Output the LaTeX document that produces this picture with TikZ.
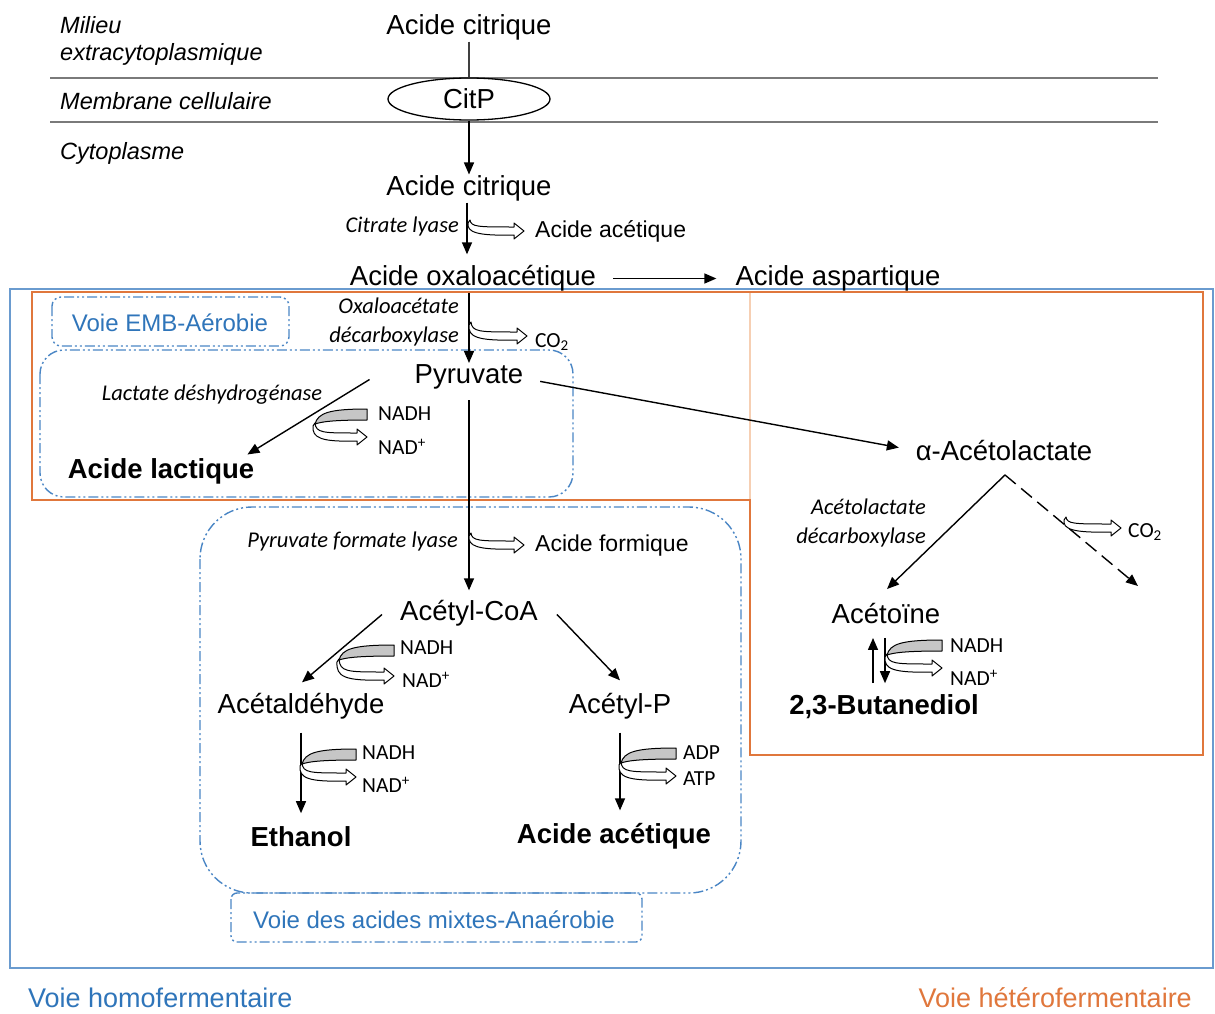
\documentclass[tikz,border=0pt]{standalone}
\usepackage{fontspec}
\setmainfont{Liberation Sans}
\newfontfamily\calib{Carlito}
\usetikzlibrary{arrows.meta,shapes.geometric,calc}
\definecolor{bl}{HTML}{4A86C5}
\definecolor{bltx}{HTML}{2F75BA}
\definecolor{blframe}{HTML}{6A9BCF}
\definecolor{org}{HTML}{E0773C}
\definecolor{orglt}{HTML}{F6CFB3}
\definecolor{memb}{HTML}{7A7A7A}
\newcommand\hollowarr[3]{%
\begin{scope}[shift={#1}]
\draw[fill=white,line width=1pt,line join=round]
 (0,0) .. controls (1,{#3-4}) and (8,{#3-4}) .. ({#2-10},{#3-4}) -- ({#2-10},{#3-8}) -- (#2,#3) -- ({#2-10},{#3+8}) -- ({#2-10},{#3+4}) .. controls (6,{#3+5}) and (-3,{#3+1}) .. (-2,3) -- cycle;
\end{scope}}
\newcommand\grayband[2]{%
\begin{scope}[shift={#1}]
\draw[fill=gray!45,line width=1pt,line join=round]
 (0,1) .. controls (3,-10) and (14,-14) .. (#2,-14) -- (#2,-3) .. controls (16,-3) and (6,-1) .. (0,1) -- cycle;
\end{scope}}
\newcommand\cofac[3]{\grayband{#1}{#2}\hollowarr{#1}{#2}{#3}}
\begin{document}
\begin{tikzpicture}[x=1pt,y=-1pt,
  big/.style={font=\fontsize{27.5}{32}\selectfont, inner sep=1pt, yshift=-2.5pt},
  med/.style={font=\fontsize{23}{28}\selectfont, inner sep=0pt, anchor=west, yshift=-2pt},
  bigb/.style={font=\fontsize{27.5}{32}\selectfont\bfseries, inner sep=1pt, yshift=-2.5pt},
  zone/.style={font=\fontsize{23.5}{27}\selectfont\itshape, align=left, anchor=west, inner sep=0pt, yshift=-2pt},
  enz/.style={font=\calib\fontsize{22.5}{29}\selectfont\itshape, anchor=east, inner sep=0pt, align=right, yshift=-1pt},
  cof/.style={font=\calib\fontsize{21.5}{24}\selectfont, anchor=west, inner sep=0pt, yshift=-1pt},
  arr/.style={-{Triangle[length=12pt,width=10pt]}, line width=1.4pt},
  ddbox/.style={draw=bl, line width=1.4pt, dash pattern=on 10pt off 3pt on 2pt off 3pt on 2pt off 3pt},
  voie/.style={font=\fontsize{24}{28}\selectfont, text=bltx, inner sep=0pt, yshift=-1.5pt},
  bottom/.style={font=\fontsize{27}{30}\selectfont, inner sep=0pt},
]
\useasboundingbox[fill=white] (0,0) rectangle (1215,1014);

% frames
\draw[blframe, line width=1.6pt] (10,289) rectangle (1213,968);
\draw[orglt, line width=1.8pt] (750,292) -- (750,500);
\draw[org, line width=1.8pt] (32,500) -- (32,292) -- (1203,292) -- (1203,755) -- (750,755) -- (750,500) -- cycle;
\draw[ddbox, rounded corners=9pt] (52,297) rectangle (289,346);
\draw[ddbox, rounded corners=24pt] (40,350) rectangle (573,497);
\draw[ddbox, rounded corners=52pt] (200,507) rectangle (741,893);
\draw[ddbox, rounded corners=6pt] (231,893) rectangle (642,942);
\node[voie] (emb) at (170,321) {Voie EMB-Aérobie};
\node[voie] (mix) at (434,918) {Voie des acides mixtes-Anaérobie};

% membrane
\draw[memb, line width=2pt] (50,78) -- (1158,78);
\draw[memb, line width=2pt] (50,122) -- (1158,122);
\node[zone] (milieu) at (60,38.5) {Milieu\\extracytoplasmique};
\node[zone] (membrane) at (60,99) {Membrane cellulaire};
\node[zone] (cyto) at (60,151) {Cytoplasme};

% main nodes
\node[big] (cit1) at (469,25) {Acide citrique};
\node[ellipse, draw, line width=1.3pt, minimum width=162pt, minimum height=42pt, inner sep=0pt, font=\fontsize{27.5}{32}\selectfont] (citp) at (469,99) {CitP};
\node[big] (cit2) at (469,186) {Acide citrique};
\node[med] (aac1) at (535,229) {Acide acétique};
\node[big] (oxa) at (473,276) {Acide oxaloacétique};
\node[big] (asp) at (838,276) {Acide aspartique};
\node[cof] (co2a) at (535,341) {CO\textsubscript{2}};
\node[big] (pyr) at (469,374) {Pyruvate};
\node[bigb] (lac) at (161,469) {Acide lactique};
\node[big] (alac) at (1004,448) {α-Acétolactate};
\node[med] (form) at (535,544) {Acide formique};
\node[big] (acoa) at (469,611) {Acétyl-CoA};
\node[big] (ald) at (301,704) {Acétaldéhyde};
\node[big] (acp) at (620,704) {Acétyl-P};
\node[bigb] (eth) at (301,834) {Ethanol};
\node[bigb] (aac2) at (614,834) {Acide acétique};
\node[big] (acetoin) at (886,611) {Acétoïne};
\node[bigb] (but) at (884,704) {2,3-Butanediol};
\node[cof] (co2b) at (1128,531) {CO\textsubscript{2}};
\coordinate (dashend) at (1138,586);

% enzyme labels
\node[enz] (cl) at (459,226) {Citrate lyase};
\node[enz] (od) at (459,321) {Oxaloacétate\\décarboxylase};
\node[enz, anchor=center] (ldh) at (212,394) {Lactate déshydrogénase};
\node[enz] (pfl) at (458,540) {Pyruvate formate lyase};
\node[enz] (ad) at (926,522) {Acétolactate\\décarboxylase};

% cofactor labels
\node[cof] (nadh1) at (378,413) {NADH};
\node[cof] (nad1) at (378,446) {NAD\textsuperscript{+}};
\node[cof] (nadh2) at (400,647) {NADH};
\node[cof] (nad2) at (402,679) {NAD\textsuperscript{+}};
\node[cof] (nadh3) at (362,752) {NADH};
\node[cof] (nad3) at (362,784) {NAD\textsuperscript{+}};
\node[cof] (adp) at (683,752) {ADP};
\node[cof] (atp) at (683,778) {ATP};
\node[cof] (nadh4) at (950,645) {NADH};
\node[cof] (nad4) at (950,677) {NAD\textsuperscript{+}};

% connectors
\draw[line width=1.2pt, black!75] (cit1.south) -- (citp.north);
\draw[arr] (citp.south) -- (cit2.north);
\draw[arr, shorten >=10pt] ([xshift=-2pt]cit2.south) -- ([xshift=-2pt]cit2.south |- oxa.north);
\draw[arr, shorten <=16pt, shorten >=18pt] (oxa.east) -- (asp.west);
\draw[arr] (pyr.north |- oxa.south) -- (pyr.north);
\draw[arr] ($(pyr.west)+(-44,3)$) -- ($(lac.north east)+(-8,-3)$);
\draw[arr, shorten <=16pt, shorten >=16pt] ($(pyr.east)+(0,2)$) -- (alac.west);
\draw[arr, shorten <=10pt, shorten >=9pt] (pyr.south) -- (acoa.north);
\draw[arr] ($(acoa.west)+(-17,1)$) -- ($(ald.north)+(1,-10)$);
\draw[arr] ($(acoa.east)+(18,1)$) -- ($(acp.north)+(0,-12)$);
\draw[arr, shorten <=12pt, shorten >=12pt] (ald.south) -- (eth.north);
\draw[arr, shorten <=12pt, shorten >=12pt] (acp.south) -- (acp.south |- aac2.north);
\draw[arr] ($(alac.south)+(1,13)$) -- ($(acetoin.north)+(1,-13)$);
\draw[arr, dash pattern=on 14pt off 7pt] ($(alac.south)+(1,13)$) -- (dashend);
\draw[arr] ($(but.north)+(-11,-10)$) -- ($(acetoin.south)+(-13,13)$);
\draw[arr] ($(acetoin.south)+(-1,13)$) -- ($(but.north)+(1,-10)$);

% hollow arrows
\hollowarr{(470,220)}{54}{11}
\hollowarr{(471,322)}{56}{14}
\hollowarr{(471,533)}{53}{12}
\hollowarr{(1066,517)}{55}{11}
\cofac{(315,423)}{52}{14}
\cofac{(339,659)}{55}{17}
\cofac{(302,763)}{54}{14}
\cofac{(621,762)}{55}{14}
\cofac{(887,654)}{55}{14}

% bottom labels
\node[bottom, text=bltx, anchor=west] (homo) at (28,998) {Voie homofermentaire};
\node[bottom, text=org, anchor=east] (hetero) at (1192,998) {Voie hétérofermentaire};
\end{tikzpicture}
\end{document}
